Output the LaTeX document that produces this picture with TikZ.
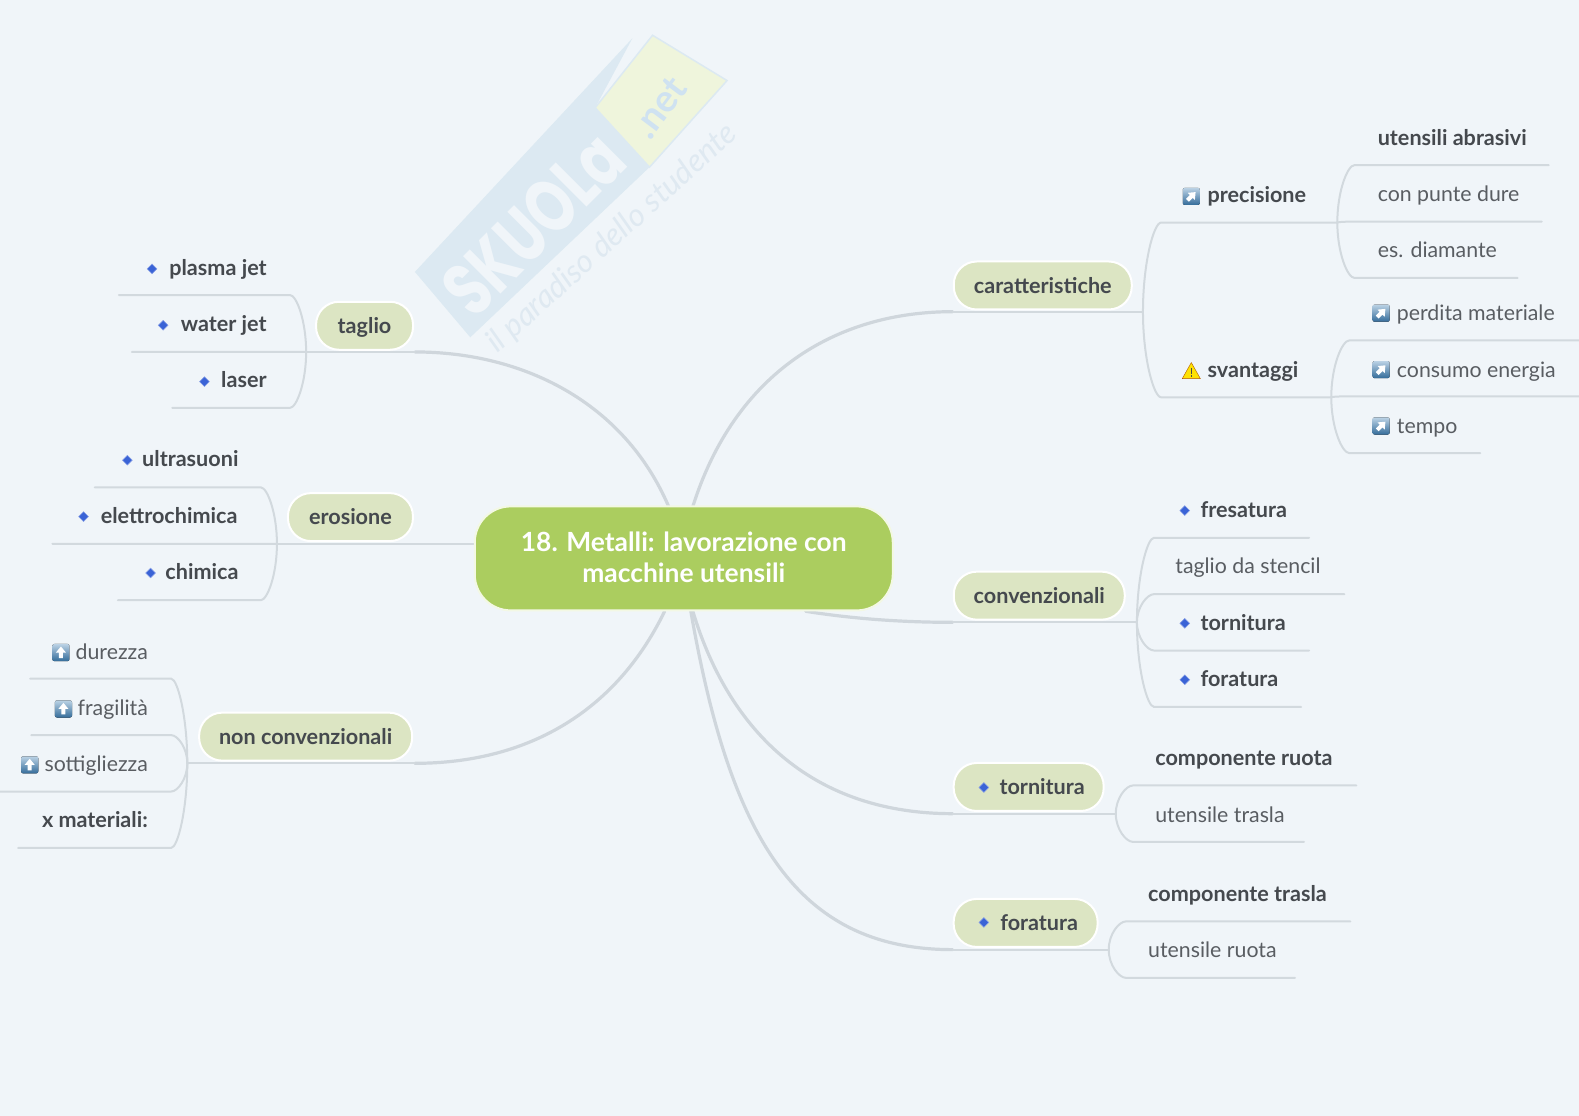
\documentclass[tikz,border=0pt]{standalone}
\usepackage{fontspec}
\setmainfont{Lato}
\newfontfamily\wmfont{Poppins}
\usetikzlibrary{calc,shapes.geometric,backgrounds}
\definecolor{bgc}{HTML}{F0F5F9}
\definecolor{linec}{HTML}{D2D9DE}
\definecolor{curvec}{HTML}{CFD6DC}
\definecolor{txtc}{HTML}{45494E}
\definecolor{txtl}{HTML}{595D62}
\definecolor{topicc}{HTML}{DCE5C3}
\definecolor{rootc}{HTML}{ABCD5F}
\definecolor{rootb}{HTML}{F3F8E4}
\definecolor{wmblue}{HTML}{DCE9F2}
\definecolor{wmyel}{HTML}{EFF5DC}
\definecolor{wmtxt}{HTML}{DFE9F1}
\definecolor{wmnet}{HTML}{CFE2F1}
\definecolor{diac}{HTML}{3A63D6}
\tikzset{
 x=1.00701pt,y=-1.00701pt,
 sub/.style={draw=linec,line width=2pt,line cap=round},
 trunk/.style={draw=curvec,line width=3.2pt,line cap=round},
 root/.style={draw=rootb,fill=rootc,line width=2pt,rounded corners=36pt,minimum width=418pt,minimum height=104pt,inner sep=0pt,align=center,text=white,font=\fontsize{26.4}{31.2}\selectfont\bfseries},
 topic/.style={draw=white,fill=topicc,line width=2pt,rounded corners=23pt,minimum height=48pt,inner sep=0pt,text=txtc,text height=18.5pt,text depth=3pt,font=\fontsize{21.6}{24}\selectfont\bfseries},
 leafb/.style={inner sep=0pt,text=txtc,yshift=-1pt,font=\fontsize{21.6}{24}\selectfont\bfseries},
 leafr/.style={inner sep=0pt,text=txtl,yshift=-1pt,font=\fontsize{21.3}{24}\selectfont},
 dia/.style={diamond,fill=diac,draw=diac!60!white,line width=.5pt,minimum width=10pt,minimum height=10pt,inner sep=0pt},
}
% junction, name, corner x, corner y, end x
\newcommand\twig[5]{%
 \coordinate (#2c) at (#3,#4);\coordinate (#2e) at (#5,#4);
 \draw[sub] (#1) .. controls ($(#1)!.55!(#1|-#2c)$) and ($(#2c)!.4!(#1|-#2c)$) .. (#2c) -- (#2e);}
% square icon: colour, centre x, centre y, rotation of white arrow
\newcommand\iconbox[4]{%
 \begin{scope}[shift={(#2,#3)}]
 \fill[rounded corners=2pt,top color=#1!35!white,bottom color=#1!85!black] (-8.5,-8.5) rectangle (8.5,8.5);
 \fill[white,rotate=#4] (0,-6) -- (5,0) -- (2,0) -- (2,5.5) -- (-2,5.5) -- (-2,0) -- (-5,0) -- cycle;
 \end{scope}}
\definecolor{iconb}{HTML}{3D7FB5}
\begin{document}
\begin{tikzpicture}
\useasboundingbox (0,0) rectangle (1568,1108.2);
\begin{scope}[on background layer]
\fill[bgc] (0,0) rectangle (1568,1108.2);
% watermark
\fill[wmblue] (412,270) -- (628,38) -- (591,107) -- (645,166) -- (467,335) -- cycle;
\fill[wmyel,draw=wmblue,line width=1.5pt] (591,107) -- (648,35) -- (722,80) -- (645,166) -- cycle;
\path (530,222) node[rotate=45,text=bgc,font=\wmfont\fontsize{58}{58}\selectfont\bfseries] (wma) {\scalebox{.96}[1.3]{SKUOLa}};
\path (655,107) node[rotate=53,text=wmnet,font=\fontsize{38}{38}\selectfont\bfseries] (wmb) {.net};
\path (608,237) node[rotate=42,text=wmtxt,font=\fontsize{31.5}{31.5}\selectfont\itshape] (wmd) {il paradiso dello studente};
% junctions
\coordinate (a1) at (688,503); \coordinate (a2) at (800,607); \coordinate (a3) at (688,607); \coordinate (a4) at (686,607);
\coordinate (a5) at (664,503); \coordinate (a6) at (472,540); \coordinate (a7) at (660,607);
\coordinate (jc) at (1135,309.5); \coordinate (jk) at (1129,618); \coordinate (jt) at (1108,808); \coordinate (jf) at (1101,943);
\coordinate (jg) at (304,349.5); \coordinate (je) at (275,540); \coordinate (jn) at (186,758);
\coordinate (jp) at (1328,221); \coordinate (js) at (1322,394.5);
\coordinate (tc) at (946,309.5); \coordinate (tk) at (946,618); \coordinate (tt) at (946,808); \coordinate (tf) at (946,943);
\coordinate (tg) at (412,349.5); \coordinate (tn) at (412,758);
% main curves
\draw[trunk] (a1) .. controls (730,370) and (830,309.5) .. (tc);
\draw[sub] (tc) -- (jc);
\draw[trunk] (a2) .. controls (850,615) and (900,618) .. (tk);
\draw[sub] (tk) -- (jk);
\draw[trunk] (a3) .. controls (725,730) and (810,808) .. (tt);
\draw[sub] (tt) -- (jt);
\draw[trunk] (a4) .. controls (725,830) and (790,943) .. (tf);
\draw[sub] (tf) -- (jf);
\draw[trunk] (a5) .. controls (620,400) and (520,349.5) .. (tg);
\draw[sub] (tg) -- (jg);
\draw[sub] (a6) -- (je);
\draw[trunk] (a7) .. controls (610,710) and (520,758) .. (tn);
\draw[sub] (tn) -- (jn);
% brackets
\twig{jc}{jp}{1153}{221}{1328}
\twig{jc}{js}{1153}{394.5}{1322}
\twig{jp}{u1}{1345}{164}{1538}
\twig{jp}{u2}{1345}{220}{1531}
\twig{jp}{u3}{1345}{276}{1507}
\twig{js}{s1}{1340}{338}{1568}
\twig{js}{s2}{1340}{393.5}{1568}
\twig{js}{s3}{1340}{450}{1470}
\twig{jk}{k1}{1146}{534}{1300}
\twig{jk}{k2}{1146}{590}{1335}
\twig{jk}{k3}{1146}{646}{1300}
\twig{jk}{k4}{1146}{702}{1292}
\twig{jt}{t1}{1125}{780}{1347}
\twig{jt}{t2}{1125}{836}{1295}
\twig{jf}{f1}{1118}{915}{1341}
\twig{jf}{f2}{1118}{971}{1286}
\twig{jg}{g1}{288}{293}{118}
\twig{jg}{g2}{288}{349.5}{131}
\twig{jg}{g3}{288}{405}{171}
\twig{je}{e1}{259}{484}{94}
\twig{je}{e2}{259}{540}{52}
\twig{je}{e3}{259}{596}{117}
\twig{jn}{n1}{170}{674}{30}
\twig{jn}{n2}{170}{730}{31}
\twig{jn}{n3}{170}{786}{0}
\twig{jn}{n4}{170}{842}{18}
\end{scope}
% root and topics
\node[root] (rootn) at (679,554.5) {\raisebox{2pt}{18. Metalli: lavorazione con}\\\raisebox{2pt}{macchine utensili}};
\node[topic,minimum width=178pt] (car) at (1035.5,283.5) {caratteristiche};
\node[topic,minimum width=171pt] (con) at (1032,591.5) {convenzionali};
\node[topic,minimum width=150pt] (tor) at (1021.5,781.5) {\hspace{27pt}tornitura};
\node[topic,minimum width=144pt] (fou) at (1018.5,916.5) {\hspace{27pt}foratura};
\node[topic,minimum width=97pt] (tag) at (362,323.5) {taglio};
\node[topic,minimum width=125pt] (ero) at (348,513.5) {erosione};
\node[topic,minimum width=213pt] (non) at (303.5,731.5) {non convenzionali};
\node[dia] (d1) at (977,782) {};
\node[dia] (d2) at (977,916) {};
% right leaves
\node[leafb,anchor=base west] (pre) at (1199,200.5) {precisione};
\node[leafb,anchor=base west] (sva) at (1199,374) {svantaggi};
\node[leafb,anchor=base west] (ua) at (1368,143.5) {utensili abrasivi};
\node[leafr,anchor=base west] (cp) at (1368,199.5) {con punte dure};
\node[leafr,anchor=base west] (ed) at (1368,255) {es. diamante};
\node[leafr,anchor=base west] (pm) at (1387,317.5) {perdita materiale};
\node[leafr,anchor=base west] (ce) at (1387,373.5) {consumo energia};
\node[leafr,anchor=base west] (te) at (1387,429.5) {tempo};
\node[leafb,anchor=base west] (fr) at (1192,513) {fresatura};
\node[leafr,anchor=base west] (ts) at (1167,569) {taglio da stencil};
\node[leafb,anchor=base west] (to) at (1192,625) {tornitura};
\node[leafb,anchor=base west] (fo) at (1192,681) {foratura};
\node[leafb,anchor=base west] (cr) at (1147,759.5) {componente ruota};
\node[leafr,anchor=base west] (ut) at (1147,815.5) {utensile trasla};
\node[leafb,anchor=base west] (ct) at (1140,894) {componente trasla};
\node[leafr,anchor=base west] (ur) at (1140,950) {utensile ruota};
\node[dia] at (1176.5,507) (d3) {};
\node[dia] at (1176.5,619) (d4) {};
\node[dia] at (1176.5,675) (d5) {};
% left leaves
\node[leafb,anchor=base east] (pj) at (265,272.5) {plasma jet};
\node[leafb,anchor=base east] (wj) at (265,328.5) {water jet};
\node[leafb,anchor=base east] (la) at (265,384) {laser};
\node[leafb,anchor=base east] (ul) at (237,462.5) {ultrasuoni};
\node[leafb,anchor=base east] (el) at (236,518.5) {elettrochimica};
\node[leafb,anchor=base east] (ch) at (237,574.5) {chimica};
\node[leafr,anchor=base east] (du) at (147,653.5) {durezza};
\node[leafr,anchor=base east] (fg) at (147,709.5) {fragilità};
\node[leafr,anchor=base east] (so) at (147,765) {sottigliezza};
\node[leafb,anchor=base east] (xm) at (147,821) {x materiali:};
\node[dia] at (151,267) (d6) {};
\node[dia] at (162,323) (d7) {};
\node[dia] at (203,379) (d8) {};
\node[dia] at (126.5,457) (d9) {};
\node[dia] at (83,513) (d10) {};
\node[dia] at (149.5,569) (d11) {};
% icons
\iconbox{iconb}{1183}{195}{-45}
\iconbox{iconb}{1371.5}{311}{-45}
\iconbox{iconb}{1371.5}{367}{-45}
\iconbox{iconb}{1371.5}{423}{-45}
\iconbox{iconb}{60.5}{648}{0}
\iconbox{iconb}{63}{704}{0}
\iconbox{iconb}{29.5}{759.5}{0}
\fill[yellow!85!orange,draw=orange!70!black,line width=.4pt,line join=round] (1183,360) -- (1192,376) -- (1174,376) -- cycle;
\fill[black!70] (1182.3,365) rectangle (1183.7,371);
\fill[black!70] (1182.3,372.2) rectangle (1183.7,374);
\end{tikzpicture}
\end{document}
